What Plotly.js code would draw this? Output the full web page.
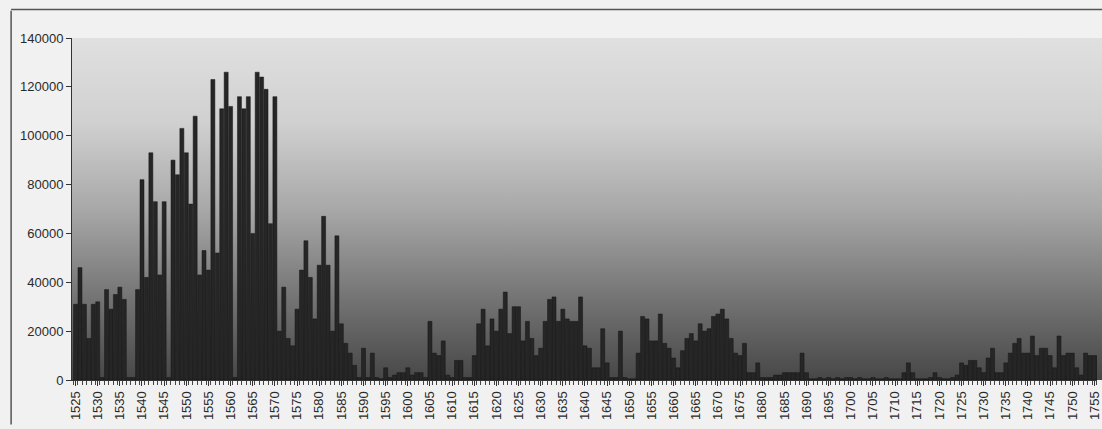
<!DOCTYPE html>
<html>
<head>
<meta charset="utf-8">
<script src="https://cdn.plot.ly/plotly-3.0.1.min.js"></script>
<style>
  html, body { margin: 0; padding: 0; background: #f1f1f1; }
  #chart { width: 1102px; height: 429px; }
</style>
</head>
<body>
<div id="chart"></div>
<script>
// ---- Data ----
const startYear = 1525;
const values = [
  // 1525-1534
  31000, 46000, 31000, 17000, 31000, 32000, 1000, 37000, 29000, 35000,
  // 1535-1544
  38000, 33000, 1000, 1000, 37000, 82000, 42000, 93000, 73000, 43000,
  // 1545-1554
  73000, 1000, 90000, 84000, 103000, 93000, 72000, 108000, 43000, 53000,
  // 1555-1564
  45000, 123000, 52000, 111000, 126000, 112000, 1000, 116000, 111000, 116000,
  // 1565-1574
  60000, 126000, 124000, 119000, 64000, 116000, 20000, 38000, 17000, 14000,
  // 1575-1584
  29000, 45000, 57000, 42000, 25000, 47000, 67000, 47000, 20000, 59000,
  // 1585-1594
  23000, 15000, 11000, 6000, 1000, 13000, 1000, 11000, 1000, 500,
  // 1595-1604
  5000, 1000, 2000, 3000, 3000, 5000, 2000, 3000, 3000, 1000,
  // 1605-1614
  24000, 11000, 10000, 16000, 2000, 1000, 8000, 8000, 1000, 1000,
  // 1615-1624
  10000, 23000, 29000, 14000, 25000, 20000, 29000, 36000, 19000, 30000,
  // 1625-1634
  30000, 16000, 24000, 17000, 10000, 13000, 24000, 33000, 34000, 24000,
  // 1635-1644
  29000, 25000, 24000, 24000, 34000, 14000, 13000, 5000, 5000, 21000,
  // 1645-1654
  7000, 1000, 1000, 20000, 1000, 500, 500, 11000, 26000, 25000,
  // 1655-1664
  16000, 16000, 27000, 15000, 13000, 9000, 5000, 12000, 17000, 19000,
  // 1665-1674
  16000, 23000, 20000, 21000, 26000, 27000, 29000, 25000, 17000, 11000,
  // 1675-1684
  10000, 15000, 3000, 3000, 7000, 1000, 1000, 1000, 2000, 2000,
  // 1685-1694
  3000, 3000, 3000, 3000, 11000, 3000, 500, 500, 1000, 500,
  // 1695-1704
  1000, 500, 1000, 500, 1000, 1000, 500, 1000, 500, 500,
  // 1705-1714
  1000, 500, 500, 1000, 500, 500, 500, 3000, 7000, 3000,
  // 1715-1724
  500, 500, 500, 1000, 3000, 1000, 500, 500, 1000, 2000,
  // 1725-1734
  7000, 6000, 8000, 8000, 5000, 3000, 9000, 13000, 3000, 3000,
  // 1735-1744
  7000, 11000, 15000, 17000, 11000, 11000, 18000, 10000, 13000, 13000,
  // 1745-1754
  10000, 5000, 18000, 10000, 11000, 11000, 5000, 2000, 11000, 10000,
  // 1755-1757
  10000, 10000, 9000
];
const years = values.map((v, i) => startYear + i);
const yTicks = [0, 20000, 40000, 60000, 80000, 100000, 120000, 140000];
const xTickYears = years.filter(y => (y - startYear) % 5 === 0);

// background gradient for plot area (as an SVG data URI image)
const gradSvg =
  '<svg xmlns="http://www.w3.org/2000/svg" width="100" height="100" preserveAspectRatio="none">' +
  '<defs><linearGradient id="g" x1="0" y1="0" x2="0" y2="1">' +
  '<stop offset="0" stop-color="#e0e0e0"/>' +
  '<stop offset="0.25" stop-color="#d0d0d0"/>' +
  '<stop offset="0.5" stop-color="#a8a8a8"/>' +
  '<stop offset="0.75" stop-color="#767676"/>' +
  '<stop offset="1" stop-color="#474747"/>' +
  '</linearGradient></defs>' +
  '<rect width="100" height="100" fill="url(#g)"/></svg>';
const gradUri = 'data:image/svg+xml;base64,' + btoa(gradSvg);

const trace = {
  type: 'bar',
  x: years,
  y: values,
  marker: { color: '#262626', line: { color: '#151515', width: 0.5 } },
  hoverinfo: 'x+y'
};

const plotW = 1102 - 72 - 5;

const layout = {
  width: 1102,
  height: 429,
  margin: { l: 72, r: 5, t: 38, b: 49 },
  paper_bgcolor: '#f1f1f1',
  plot_bgcolor: 'rgba(0,0,0,0)',
  bargap: 0.1,
  showlegend: false,
  font: { family: 'Liberation Sans, Arial, sans-serif', size: 13, color: '#2a2a2a' },
  xaxis: {
    type: 'linear',
    range: [1524.2, 1524.2 + plotW / 4.43],
    tickmode: 'array',
    tickvals: xTickYears,
    ticktext: xTickYears.map(String),
    tickangle: -90,
    ticks: 'outside',
    ticklen: 5,
    tickcolor: '#333',
    minor: { dtick: 1, tick0: startYear - 0.5, ticks: 'outside', ticklen: 4, tickcolor: '#444' },
    showline: true,
    linecolor: '#333',
    linewidth: 1,
    showgrid: false,
    zeroline: false,
    tickfont: { size: 13, color: '#2a2a2a' }
  },
  yaxis: {
    range: [0, 140000],
    tickmode: 'array',
    tickvals: yTicks,
    ticktext: yTicks.map(String),
    ticks: 'outside',
    ticklen: 5,
    tickcolor: '#333',
    showline: true,
    linecolor: '#333',
    linewidth: 1,
    showgrid: false,
    zeroline: false,
    tickfont: { size: 13, color: '#2a2a2a' }
  },
  images: [{
    source: gradUri,
    xref: 'paper', yref: 'paper',
    x: 0, y: 1, sizex: 1030 / plotW, sizey: 1,
    xanchor: 'left', yanchor: 'top',
    sizing: 'stretch',
    layer: 'below'
  }],
  shapes: [
    { type: 'line', xref: 'paper', yref: 'paper', x0: -0.0594, x1: -0.0594, y0: 1.08, y1: -0.13, line: { color: '#555', width: 1.5 } },
    { type: 'line', xref: 'paper', yref: 'paper', x0: -0.0594, x1: 1.01, y0: 1.083, y1: 1.083, line: { color: '#555', width: 1.5 } }
  ]
};

Plotly.newPlot('chart', [trace], layout, { displayModeBar: false, staticPlot: true });
</script>
</body>
</html>
